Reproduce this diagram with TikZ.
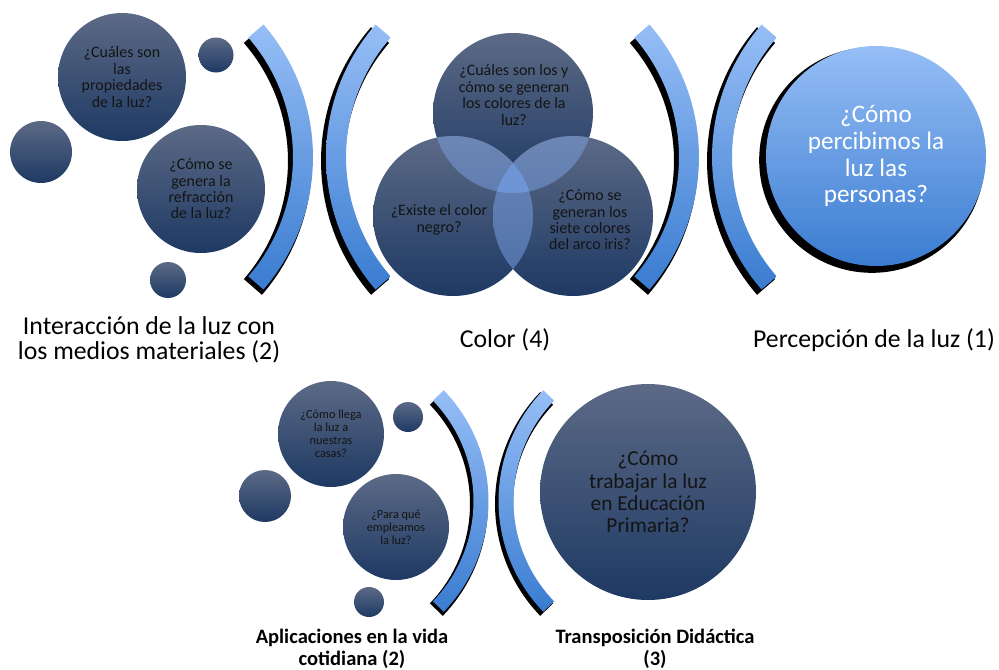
\documentclass[tikz,border=0pt]{standalone}
\usepackage{fontspec}
\setmainfont{Carlito}
\usepackage{xcolor}
\usepackage{tikz}
\usetikzlibrary{shadows}

\definecolor{navytop}{RGB}{92,106,134}
\definecolor{navybot}{RGB}{30,57,99}
\definecolor{skytop}{RGB}{150,190,246}
\definecolor{skybot}{RGB}{58,124,208}
\definecolor{laptop}{RGB}{108,134,180}
\definecolor{lapbot}{RGB}{76,112,170}
\definecolor{tripl}{RGB}{110,150,214}

% curved band: centre x, centre y, radius, half width (angles in \angA, \angB)
\newcommand{\bandpath}[4]{plot[domain=\angA:\angB, samples=40] ({#1+(#3+#4)*cos(\x)}, {#2+(#3+#4)*sin(\x)})
  -- plot[domain=\angB:\angA, samples=40] ({#1+(#3-#4)*cos(\x)}, {#2+(#3-#4)*sin(\x)}) -- cycle}
% centre x, centre y, mid angle, radius, half span, half width, shadow dx, shadow dy
\newcommand{\bandarc}[8]{%
  \pgfmathsetmacro{\angA}{#3-#5}\pgfmathsetmacro{\angB}{#3+#5}
  \fill[black, shift={(#7,#8)}] \bandpath{#1}{#2}{#4}{#6*1.2};
  \shade[top color=skytop, bottom color=skybot] \bandpath{#1}{#2}{#4}{#6};}

\begin{document}
\begin{tikzpicture}[x=0.03cm, y=0.03cm,
  ball/.style={circle, inner sep=0pt, top color=navytop, bottom color=navybot,
    text=black!92, align=center},
  lap/.style={top color=laptop, bottom color=lapbot},
  qsmall/.style={font=\fontsize{10.5}{11}\selectfont},
  qmid/.style={font=\fontsize{13.6}{14}\selectfont},
  qbig/.style={font=\fontsize{21.5}{23}\selectfont},
  caption/.style={font=\fontsize{22}{21.3}\selectfont, align=center},
  bcaption/.style={font=\bfseries\fontsize{17.5}{18.7}\selectfont, align=center}]
  \def\px{0.03cm}
  \useasboundingbox (0,0) rectangle (999,-670);

  % --- interaccion
  \node[ball, qmid, minimum size=128*\px] (props) at (122,-77) {¿Cuáles son\\las\\propiedades\\de la luz?};
  \node[ball, minimum size=35*\px] (dotA) at (216,-55) {};
  \node[ball, minimum size=62*\px] (dotB) at (41,-152) {};
  \node[ball, qmid, minimum size=128*\px] (refr) at (201,-189) {¿Cómo se\\genera la\\refracción\\de la luz?};
  \node[ball, minimum size=36*\px] (dotC) at (168,-280) {};
  \bandarc{111}{-157}{0}{192}{41}{10}{-3}{-4}
  \bandarc{528}{-157}{180}{192}{41}{10}{-3}{-4}

  % --- color
  \node[ball, minimum size=160*\px] (vt) at (513,-113) {};
  \node[ball, minimum size=160*\px] (vl) at (453,-216) {};
  \node[ball, minimum size=160*\px] (vr) at (573,-216) {};
  \begin{scope}
    \clip (vt.center) circle (80);
    \shade[lap] (vl.center) circle (80);
    \shade[lap] (vr.center) circle (80);
  \end{scope}
  \begin{scope}
    \clip (vl.center) circle (80);
    \shade[lap] (vr.center) circle (80);
  \end{scope}
  \begin{scope}
    \clip (vt.center) circle (80);
    \clip (vl.center) circle (80);
    \fill[tripl] (vr.center) circle (80);
  \end{scope}
  \node[qmid, align=center, text=black!92] (vt-q) at (514,-95) {¿Cuáles son los y\\cómo se generan\\los colores de la\\luz?};
  \node[qmid, align=center, text=black!92] (vl-q) at (439,-220) {¿Existe el color\\negro?};
  \node[qmid, align=center, text=black!92] (vr-q) at (590,-220) {¿Cómo se\\generan los\\siete colores\\del arco iris?};
  \bandarc{497}{-157}{0}{192}{41}{10}{-3}{-4}
  \bandarc{914}{-157}{180}{192}{41}{10}{-3}{-4}

  % --- percepcion
  \node[circle, inner sep=0pt, minimum size=220*\px, top color=skytop, bottom color=skybot,
    general shadow={fill=black, shadow xshift=-4*\px, shadow yshift=-4*\px, shadow scale=1.025},
    text=white, align=center, qbig] (percep) at (876,-156) {¿Cómo\\percibimos la\\luz las\\personas?};

  \node[caption] (capInter) at (149,-340) {Interacción de la luz con\\los medios materiales (2)};
  \node[caption] (capColor) at (505,-340) {Color (4)};
  \node[caption] (capPercep) at (874,-340) {Percepción de la luz (1)};

  % --- vida cotidiana
  \node[ball, qsmall, minimum size=106*\px] (casas) at (331,-434) {¿Cómo llega\\la luz a\\nuestras\\casas?};
  \node[ball, minimum size=30*\px] (dotD) at (408,-417) {};
  \node[ball, minimum size=52*\px] (dotE) at (265,-496) {};
  \node[ball, qsmall, minimum size=106*\px] (usos) at (396,-527) {¿Para qué\\empleamos\\la luz?};
  \node[ball, minimum size=30*\px] (dotF) at (369,-602) {};
  \bandarc{329}{-501}{0}{152}{44}{7.5}{-2}{-3}
  \bandarc{658}{-501}{180}{152}{44}{7.5}{-2}{-3}
  \node[ball, font=\fontsize{18.2}{19}\selectfont, minimum size=216*\px] (didac) at (648,-492)
    {¿Cómo\\trabajar la luz\\en Educación\\Primaria?};

  \node[bcaption] (capVida) at (352,-649) {Aplicaciones en la vida\\cotidiana (2)};
  \node[bcaption] (capDidac) at (655,-649) {Transposición Didáctica\\(3)};
\end{tikzpicture}
\end{document}
